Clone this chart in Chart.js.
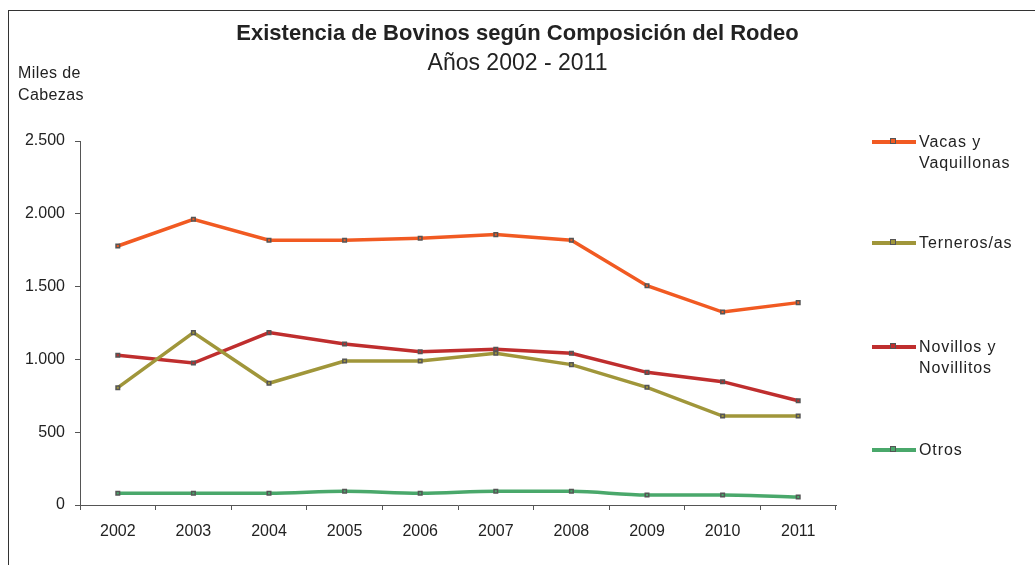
<!DOCTYPE html>
<html>
<head>
    <meta charset="utf-8">
    <title>Existencia de Bovinos</title>
    <script src="https://cdn.jsdelivr.net/npm/chart.js"></script>
    <style>
        body { margin: 0; background: #fff; font-family: "Liberation Sans", Arial, sans-serif; color: #222; }
        #wrap { position: relative; width: 1035px; height: 565px; overflow: hidden; }
        #frame { position: absolute; left: 8px; top: 10px; width: 1040px; height: 600px; border-left: 1px solid #333; border-top: 1px solid #333; }
        #chartCanvas { position: absolute; left: 0; top: 0; }
        .title { position: absolute; left: 0; width: 1035px; text-align: center; }
        .ylab { position: absolute; left: 18px; top: 62px; font-size: 16px; line-height: 22px; letter-spacing: 0.4px; }
        .leg { position: absolute; left: 872px; font-size: 16px; line-height: 21px; letter-spacing: 0.9px; }
        .leg .sample { position: absolute; left: 0; top: 9px; width: 44px; height: 4px; }
        .leg .mark { position: absolute; left: 18px; top: -2px; width: 4px; height: 4px; border: 1.5px solid #555; }
        .leg .txt { position: absolute; left: 47px; top: 0; white-space: nowrap; }
    </style>
</head>
<body>
<div id="wrap">
    <div id="frame"></div>
    <canvas id="chartCanvas" width="1035" height="565"></canvas>
    <div class="title" style="top:20px;font-size:22px;font-weight:bold;">Existencia de Bovinos según Composición del Rodeo</div>
    <div class="title" style="top:49px;font-size:23px;">Años 2002 - 2011</div>
    <div class="ylab">Miles de<br>Cabezas</div>
    <div id="legend"></div>
</div>
<script>
    var anios = ['2002', '2003', '2004', '2005', '2006', '2007', '2008', '2009', '2010', '2011'];
    var vacas = [1779, 1962, 1818, 1818, 1832, 1857, 1818, 1506, 1325, 1390];
    var terneros = [806, 1184, 836, 989, 989, 1042, 964, 808, 611, 611];
    var novillos = [1028, 975, 1184, 1106, 1053, 1069, 1042, 911, 847, 716];
    var otros = [80, 80, 80, 94, 80, 94, 94, 69, 69, 55];
    var series = ['Vacas y Vaquillonas', 'Terneros/as', 'Novillos y Novillitos', 'Otros'];
    var legendLines = [['Vacas y', 'Vaquillonas'], ['Terneros/as'], ['Novillos y', 'Novillitos'], ['Otros']];

    var colores = ['#f15a22', '#a0963a', '#bf2e2e', '#4aa86b'];
    var legendTop = [131, 232, 336, 439];

    function serie(label, data, color, smooth) {
        return {
            label: label,
            data: data,
            borderColor: color,
            backgroundColor: color,
            borderWidth: 3.5,
            pointStyle: 'rect',
            pointRadius: 2.5,
            pointBorderColor: '#555',
            pointBorderWidth: 1.5,
            pointBackgroundColor: color,
            cubicInterpolationMode: smooth ? 'monotone' : 'default',
            tension: 0
        };
    }

    var fuente = '"Liberation Sans", Arial, sans-serif';
    var ctx = document.getElementById('chartCanvas').getContext('2d');
    var chart = new Chart(ctx, {
        type: 'line',
        data: {
            labels: anios,
            datasets: [
                serie(series[0], vacas, colores[0]),
                serie(series[1], terneros, colores[1]),
                serie(series[2], novillos, colores[2]),
                serie(series[3], otros, colores[3], true)
            ]
        },
        options: {
            responsive: false,
            animation: false,
            layout: { padding: { left: 0, top: 141, right: 199, bottom: 0 } },
            plugins: {
                legend: { display: false },
                tooltip: { enabled: false }
            },
            scales: {
                x: {
                    offset: true,
                    afterFit: function(scale) { scale.height = 60; },
                    grid: { offset: true, drawOnChartArea: false, tickLength: 5, color: '#555' },
                    border: { color: '#555', width: 1 },
                    ticks: { color: '#222', padding: 12, font: { size: 16, family: fuente } }
                },
                y: {
                    min: 0,
                    max: 2500,
                    afterFit: function(scale) { scale.width = 80; },
                    grid: { drawOnChartArea: false, tickLength: 5, color: '#555' },
                    border: { color: '#555', width: 1 },
                    ticks: {
                        stepSize: 500,
                        color: '#222',
                        padding: 10,
                        font: { size: 16, family: fuente },
                        callback: function(v) { return v.toString().replace(/\B(?=(\d{3})+(?!\d))/g, '.'); }
                    }
                }
            }
        }
    });

    // leyenda a la derecha
    var leg = document.getElementById('legend');
    chart.data.datasets.forEach(function(ds, i) {
        var d = document.createElement('div');
        d.className = 'leg';
        d.style.top = legendTop[i] + 'px';
        d.innerHTML = '<div class="sample" style="background:' + ds.borderColor + '"><div class="mark" style="background:' + ds.borderColor + '"></div></div>' +
            '<div class="txt">' + legendLines[i].join('<br>') + '</div>';
        leg.appendChild(d);
    });
</script>
</body>
</html>
